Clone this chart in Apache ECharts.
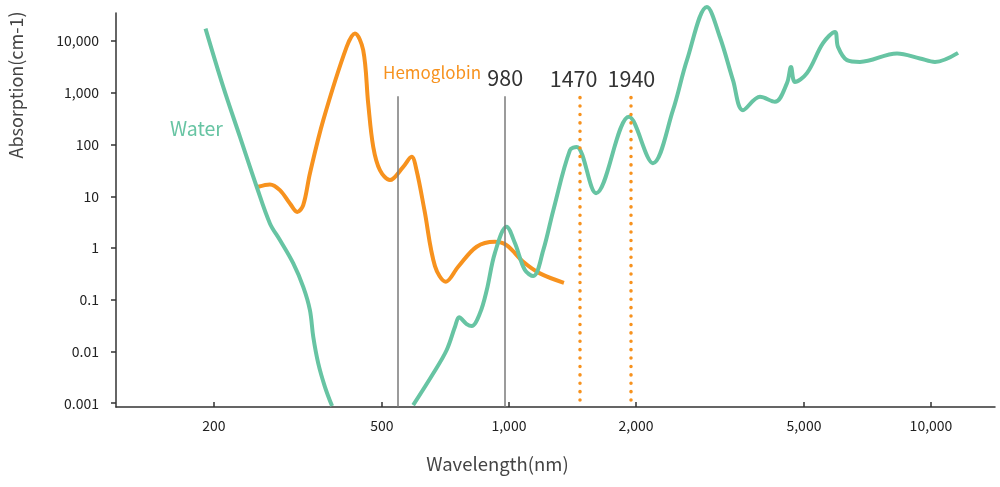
<!DOCTYPE html>
<html>
<head>
<meta charset="utf-8">
<script src="https://cdn.jsdelivr.net/npm/echarts@6/dist/echarts.min.js"></script>
<style>
html,body{margin:0;padding:0;background:#fff;}
#chart{width:1000px;height:487px;}
</style>
</head>
<body>
<div id="chart"></div>
<script>
// Water absorption (cm-1) vs wavelength (nm); null = curve below the axis range
const waterWavelength = [191, 210.4, 230.5, 252.5, 271.4, 286.6, 308.3, 325.5, 337.6, 343.8, 353.3, 366.4, 381, 468, 593, 662, 712, 745, 762, 794, 816, 854, 886, 926, 987, 1033, 1091, 1142, 1206, 1274, 1395, 1447, 1608, 1925, 2193, 2447, 2641, 2945, 3162, 3395, 3585, 3934, 4269, 4558, 4659, 4761, 5083, 5548, 5922, 6020, 6324, 6789, 8308, 9416, 10220, 11590];
const waterAbsorption = [17500, 1306, 141, 15.3, 2.99, 1.43, 0.505, 0.178, 0.0633, 0.0193, 0.0059, 0.00208, 0.00088, null, 0.00092, 0.0038, 0.0107, 0.030, 0.0457, 0.0339, 0.031, 0.0553, 0.154, 0.80, 2.58, 1.25, 0.375, 0.287, 0.91, 5.4, 78, 90, 11.5, 344, 43.8, 463, 4290, 45900, 11900, 1760, 463, 837, 670, 1540, 3180, 1630, 2400, 9120, 15100, 7740, 4290, 3970, 5770, 4620, 3970, 5930];

// Hemoglobin absorption
const hbWavelength = [254.6, 271.4, 286.6, 302.7, 315, 325.5, 337.6, 363.1, 412.5, 431.6, 451.5, 464, 476.9, 494.6, 522.4, 561.7, 588, 604, 630.6, 667.9, 709, 758, 838.6, 926, 987, 1081, 1184, 1350];
const hbAbsorption = [15.3, 17.0, 13.2, 7.29, 5.0, 6.76, 27.7, 297, 7740, 14060, 6680, 624, 90.5, 32.1, 20.6, 37.2, 58, 32, 5.4, 0.448, 0.223, 0.434, 1.06, 1.32, 1.14, 0.542, 0.324, 0.213];

const xTickValues = [200, 500, 1000, 2000, 5000, 10000];
const yTickValues = [0.001, 0.01, 0.1, 1, 10, 100, 1000, 10000];
const markerWavelengths = [980, 1470, 1940];
const referenceWavelength = 546;

const GREEN = '#67c4a3';
const ORANGE = '#f7921e';
const FONT = '"Noto Sans CJK JP", "Noto Sans", sans-serif';

const yMin = 0.000845, yMax = 35000;
const lineTop = 864;      // upper end of the solid marker lines
const dotTop = 826, dotBottom = 0.00115;

const chart = echarts.init(document.getElementById('chart'), null, {renderer: 'canvas'});

const grayLines = [referenceWavelength, markerWavelengths[0]].map(w => [
  {coord: [w, yMin]},
  {coord: [w, lineTop], name: w === referenceWavelength ? '' : String(w), label: {show: w !== referenceWavelength}}
]);
const dottedLines = markerWavelengths.slice(1).map((w, i) => [
  {coord: [w, dotBottom]},
  {coord: [w, dotTop], name: String(w), label: {offset: [i === 0 ? -6 : 1, 0]}}
]);

const markLabel = {show: true, position: 'end', distance: 8, formatter: p => p.name, fontSize: 21.5, color: '#333', fontFamily: FONT};

const option = {
  animation: false,
  grid: {left: 116, right: 5, top: 13, bottom: 80, containLabel: false, outerBoundsMode: 'none'},
  xAxis: {
    type: 'log', logBase: 10, min: 117.2, max: 14180,
    name: 'Wavelength(nm)', nameLocation: 'middle', nameGap: 48,
    nameTextStyle: {fontSize: 18.5, color: '#444', fontFamily: FONT, padding: [0, 116, 0, 0]},
    axisLine: {show: true, lineStyle: {color: '#333', width: 1.5}},
    axisTick: {show: true, inside: true, length: 5, customValues: xTickValues, lineStyle: {color: '#333', width: 1.5}},
    axisLabel: {show: true, customValues: xTickValues, margin: 12, fontSize: 14, color: '#222', fontFamily: FONT,
      formatter: v => Math.round(v).toLocaleString('en-US')},
    splitLine: {show: false}, minorTick: {show: false}, minorSplitLine: {show: false}
  },
  yAxis: {
    type: 'log', logBase: 10, min: yMin, max: yMax,
    name: 'Absorption(cm-1)', nameLocation: 'middle', nameRotate: 90, nameGap: 91,
    nameTextStyle: {fontSize: 18, color: '#444', fontFamily: FONT, padding: [0, 0, 0, 250]},
    axisLine: {show: true, lineStyle: {color: '#333', width: 1.5}},
    axisTick: {show: true, inside: false, length: 5, customValues: yTickValues, lineStyle: {color: '#333', width: 1.5}},
    axisLabel: {show: true, customValues: yTickValues, margin: 17, fontSize: 14, color: '#222', fontFamily: FONT,
      formatter: v => { const r = Number(v.toPrecision(6)); return r >= 1 ? r.toLocaleString('en-US') : String(r); }},
    splitLine: {show: false}, minorTick: {show: false}, minorSplitLine: {show: false}
  },
  series: [
    {
      name: 'Markers', type: 'line', data: [], z: 1, silent: true,
      markLine: {
        silent: true, symbol: ['none', 'none'], animation: false,
        lineStyle: {color: '#7a7a7a', width: 1.5, type: 'solid'},
        label: markLabel,
        data: grayLines
      }
    },
    {
      name: 'Water', type: 'line', smooth: 0.35, showSymbol: false, symbol: 'none', clip: false,
      connectNulls: false, z: 3,
      lineStyle: {color: GREEN, width: 4},
      data: waterWavelength.map((w, i) => [w, waterAbsorption[i]])
    },
    {
      name: 'Hemoglobin', type: 'line', smooth: 0.35, showSymbol: false, symbol: 'none', z: 2,
      lineStyle: {color: ORANGE, width: 4},
      data: hbWavelength.map((w, i) => [w, hbAbsorption[i]])
    },
    {
      name: 'Dotted', type: 'line', data: [], z: 4, silent: true,
      markLine: {
        silent: true, symbol: ['none', 'none'], animation: false,
        lineStyle: {color: ORANGE, width: 3.5, type: [0.1, 8.3], cap: 'round'},
        label: markLabel,
        data: dottedLines
      }
    }
  ],
  graphic: [
    {type: 'text', left: 170, top: 119, style: {text: 'Water', fontSize: 19.5, fill: GREEN, fontFamily: FONT}},
    {type: 'text', left: 383, top: 64, style: {text: 'Hemoglobin', fontSize: 17, fill: ORANGE, fontFamily: FONT}}
  ]
};
chart.setOption(option);
</script>
</body>
</html>
